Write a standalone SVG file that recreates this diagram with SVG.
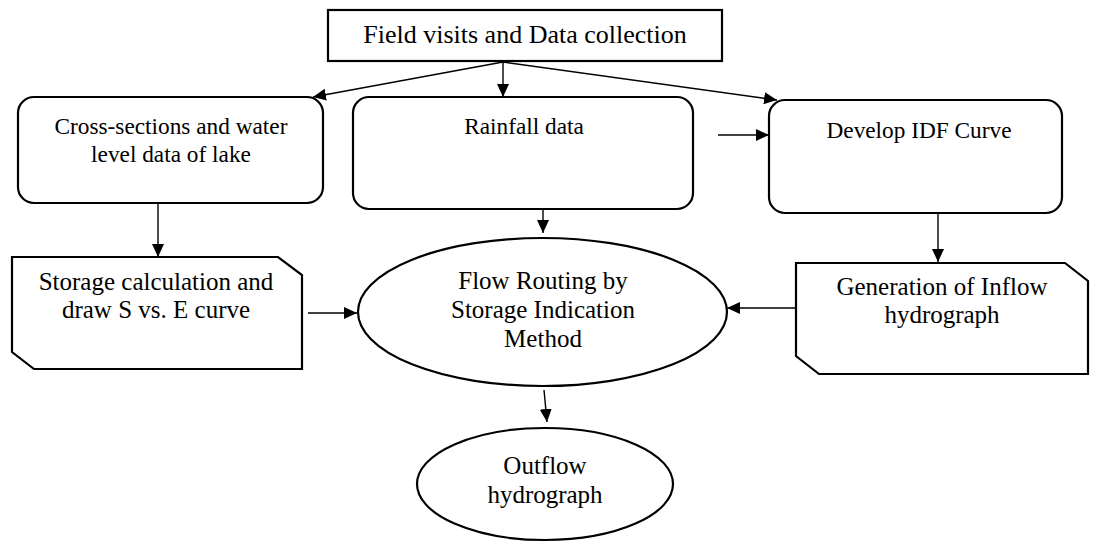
<svg xmlns="http://www.w3.org/2000/svg" width="1104" height="542" viewBox="0 0 1104 542">
  <style>
    .box { fill: #ffffff; stroke: #000000; stroke-width: 2.2; }
    .lbl { font-family: "Liberation Serif", "Times New Roman", serif; font-size: 25px; fill: #000000; text-anchor: middle; }
    .lbl23 { font-size: 23.3px; }
    .lbl26 { font-size: 26px; }
    .conn { stroke: #000000; stroke-width: 1.4; fill: none; marker-end: url(#arrow); }
  </style>
  <defs>
    <marker id="arrow" markerUnits="userSpaceOnUse" markerWidth="14" markerHeight="12" refX="13" refY="6" orient="auto">
      <path d="M0,0 L13,6 L0,12 z" fill="#000000"/>
    </marker>
  </defs>
  <rect width="1104" height="542" fill="#ffffff"/>

  <g id="node-field">
    <rect class="box" x="328" y="10" width="394" height="51"/>
    <text class="lbl lbl26" x="525" y="43">Field visits and Data collection</text>
  </g>

  <g id="node-cross">
    <rect class="box" x="18" y="97" width="305" height="106" rx="16" ry="16"/>
    <text class="lbl lbl23" x="171" y="134">Cross-sections and water</text>
    <text class="lbl lbl23" x="171" y="162">level data of lake</text>
  </g>

  <g id="node-rainfall">
    <rect class="box" x="353" y="97" width="340" height="112" rx="16" ry="16"/>
    <text class="lbl lbl23" x="524" y="134">Rainfall data</text>
  </g>

  <g id="node-idf">
    <rect class="box" x="769" y="100" width="293" height="113" rx="16" ry="16"/>
    <text class="lbl lbl23" x="919" y="138">Develop IDF Curve</text>
  </g>

  <g id="node-storage">
    <path class="box" d="M12,257 L278,257 L302,275 L302,369 L34,369 L12,352 Z"/>
    <text class="lbl" x="156" y="290">Storage calculation and</text>
    <text class="lbl" x="156" y="318">draw S vs. E curve</text>
  </g>

  <g id="node-routing">
    <ellipse class="box" cx="542.5" cy="312" rx="184.5" ry="74"/>
    <text class="lbl" x="543" y="289">Flow Routing by</text>
    <text class="lbl" x="543" y="318">Storage Indication</text>
    <text class="lbl" x="543" y="347">Method</text>
  </g>

  <g id="node-inflow">
    <path class="box" d="M796,263 L1065,263 L1088,281 L1088,374 L819,374 L796,356 Z"/>
    <text class="lbl" x="942" y="295">Generation of Inflow</text>
    <text class="lbl" x="942" y="323">hydrograph</text>
  </g>

  <g id="node-outflow">
    <ellipse class="box" cx="545" cy="484" rx="128" ry="56"/>
    <text class="lbl" x="545" y="474">Outflow</text>
    <text class="lbl" x="545" y="503">hydrograph</text>
  </g>

  <g id="connectors">
    <path class="conn" d="M503,62 L313,97"/>
    <path class="conn" d="M503,62 L503,97"/>
    <path class="conn" d="M503,62 L777,100"/>
    <path class="conn" d="M718,135 L769,135"/>
    <path class="conn" d="M158,203 L158,257"/>
    <path class="conn" d="M543,209 L543,233"/>
    <path class="conn" d="M938,213 L938,262"/>
    <path class="conn" d="M308,313 L357,313"/>
    <path class="conn" d="M796,308 L727,308"/>
    <path class="conn" d="M544,390 L547,422"/>
  </g>
</svg>
